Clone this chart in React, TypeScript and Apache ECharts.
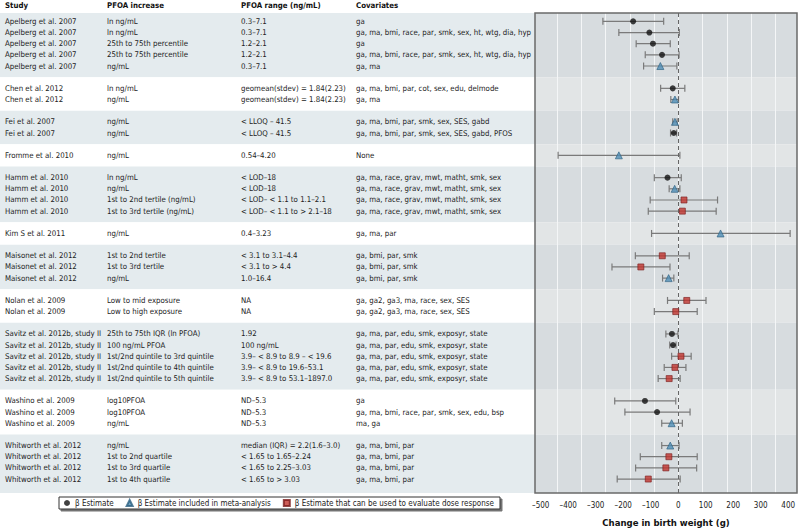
import React, { useEffect, useRef } from "react";
import * as echarts from "echarts";

const headers = ["Study", "PFOA increase", "PFOA range (ng/mL)", "Covariates"];

const studies = [
  "Apelberg et al. 2007", "Apelberg et al. 2007", "Apelberg et al. 2007", "Apelberg et al. 2007", "Apelberg et al. 2007",
  "Chen et al. 2012", "Chen et al. 2012",
  "Fei et al. 2007", "Fei et al. 2007",
  "Fromme et al. 2010",
  "Hamm et al. 2010", "Hamm et al. 2010", "Hamm et al. 2010", "Hamm et al. 2010",
  "Kim S et al. 2011",
  "Maisonet et al. 2012", "Maisonet et al. 2012", "Maisonet et al. 2012",
  "Nolan et al. 2009", "Nolan et al. 2009",
  "Savitz et al. 2012b, study II", "Savitz et al. 2012b, study II", "Savitz et al. 2012b, study II", "Savitz et al. 2012b, study II", "Savitz et al. 2012b, study II",
  "Washino et al. 2009", "Washino et al. 2009", "Washino et al. 2009",
  "Whitworth et al. 2012", "Whitworth et al. 2012", "Whitworth et al. 2012", "Whitworth et al. 2012",
];

const increases = [
  "ln ng/mL", "ln ng/mL", "25th to 75th percentile", "25th to 75th percentile", "ng/mL",
  "ln ng/mL", "ng/mL",
  "ng/mL", "ng/mL",
  "ng/mL",
  "ln ng/mL", "ng/mL", "1st to 2nd tertile (ng/mL)", "1st to 3rd tertile (ng/mL)",
  "ng/mL",
  "1st to 2nd tertile", "1st to 3rd tertile", "ng/mL",
  "Low to mid exposure", "Low to high exposure",
  "25th to 75th IQR (ln PFOA)", "100 ng/mL PFOA", "1st/2nd quintile to 3rd quintile", "1st/2nd quintile to 4th quintile", "1st/2nd quintile to 5th quintile",
  "log10PFOA", "log10PFOA", "ng/mL",
  "ng/mL", "1st to 2nd quartile", "1st to 3rd quartile", "1st to 4th quartile",
];

const ranges = [
  "0.3–7.1", "0.3–7.1", "1.2–2.1", "1.2–2.1", "0.3–7.1",
  "geomean(stdev) = 1.84(2.23)", "geomean(stdev) = 1.84(2.23)",
  "< LLOQ – 41.5", "< LLOQ – 41.5",
  "0.54–4.20",
  "< LOD–18", "< LOD–18", "< LOD– < 1.1 to 1.1–2.1", "< LOD– < 1.1 to > 2.1–18",
  "0.4–3.23",
  "< 3.1 to 3.1–4.4", "< 3.1 to > 4.4", "1.0–16.4",
  "NA", "NA",
  "1.92", "100 ng/mL", "3.9– < 8.9 to 8.9 – < 19.6", "3.9– < 8.9 to 19.6–53.1", "3.9– < 8.9 to 53.1–1897.0",
  "ND–5.3", "ND–5.3", "ND–5.3",
  "median (IQR) = 2.2(1.6–3.0)", "< 1.65 to 1.65–2.24", "< 1.65 to 2.25–3.03", "< 1.65 to > 3.03",
];

const covariates = [
  "ga", "ga, ma, bmi, race, par, smk, sex, ht, wtg, dia, hyp", "ga", "ga, ma, bmi, race, par, smk, sex, ht, wtg, dia, hyp", "ga, ma",
  "ga, ma, bmi, par, cot, sex, edu, delmode", "ga, ma",
  "ga, ma, bmi, par, smk, sex, SES, gabd", "ga, ma, bmi, par, smk, sex, SES, gabd, PFOS",
  "None",
  "ga, ma, race, grav, mwt, matht, smk, sex", "ga, ma, race, grav, mwt, matht, smk, sex", "ga, ma, race, grav, mwt, matht, smk, sex", "ga, ma, race, grav, mwt, matht, smk, sex",
  "ga, ma, par",
  "ga, bmi, par, smk", "ga, bmi, par, smk", "ga, bmi, par, smk",
  "ga, ga2, ga3, ma, race, sex, SES", "ga, ga2, ga3, ma, race, sex, SES",
  "ga, ma, par, edu, smk, exposyr, state", "ga, ma, par, edu, smk, exposyr, state", "ga, ma, par, edu, smk, exposyr, state", "ga, ma, par, edu, smk, exposyr, state", "ga, ma, par, edu, smk, exposyr, state",
  "ga", "ga, ma, bmi, race, par, smk, sex, edu, bsp", "ma, ga",
  "ga, ma, bmi, par", "ga, ma, bmi, par", "ga, ma, bmi, par", "ga, ma, bmi, par",
];

// 0 = β Estimate, 1 = included in meta-analysis, 2 = dose response
const markerTypes = [
  0, 0, 0, 0, 1,
  0, 1,
  1, 0,
  1,
  0, 1, 2, 2,
  1,
  2, 2, 1,
  2, 2,
  0, 0, 2, 2, 2,
  0, 0, 1,
  1, 2, 2, 2,
];

const estimates = [
  -164, -105, -92, -59, -65,
  -20, -12,
  -12, -16,
  -216,
  -39, -13, 21, 15,
  154,
  -58, -136, -35,
  31, -9,
  -23, -19, 10, -12, -33,
  -121, -77, -24,
  -29, -34, -45, -109,
];

const lowers = [
  -274, -216, -153, -120, -126,
  -64, -27,
  -20, -28,
  -437,
  -87, -33, -102, -109,
  -97,
  -156, -241, -57,
  -39, -87,
  -45, -31, -24, -51, -73,
  -231, -194, -60,
  -60, -138, -155, -222,
];

const uppers = [
  -53, 4, -29, 3, -5,
  24, 1,
  -4, -6,
  6,
  11, 6, 143, 138,
  407,
  40, -30, -16,
  101, 69,
  -1, -8, 47, 28, 7,
  -9, 43, 15,
  3, 69, 67, 7,
];

const xTickLabels = [-500, -400, -300, -200, -100, 0, 100, 200, 300, 400];
const seriesNames = [
  "β Estimate",
  "β Estimate included in meta-analysis",
  "β Estimate that can be used to evaluate dose response",
];
const xAxisTitle = "Change in birth weight (g)";

// ---- layout / style ----
const FONT = "'Liberation Sans Narrow', 'Arial Narrow', 'DejaVu Sans Condensed', 'Liberation Sans', sans-serif";
const FS = 7.8;
const PLOT_LEFT = 535;
const PLOT_RIGHT_GAP = 3;
const GRID_TOP = 13;
const GRID_BOTTOM = 36;
const YMIN = -0.75;
const YMAX = 42.25;
const XMIN = -521;
const XMAX = 432;
const GMIN = -590;
const GMAX = 488;
const COL_X = [5, 107, 241, 356];
const TABLE_BAND = ["#e4ebee", "#ffffff"];
const PLOT_BAND = ["#d7dcdf", "#e2e5e6"];

const headerStyle = {
  align: "left",
  verticalAlign: "middle",
  fontWeight: "bold",
  fontSize: FS,
  color: "#111",
  fontFamily: FONT,
};

export default function App() {
  const ref = useRef<HTMLDivElement>(null);

  useEffect(() => {
    document.body.style.margin = "0";
    if (!ref.current) return;
    const chart = echarts.init(ref.current, undefined, { renderer: "svg" });

    const rows: number[] = [];
    let r = 0;
    studies.forEach((s, i) => {
      if (i > 0 && s !== studies[i - 1]) r += 1;
      rows.push(r);
      r += 1;
    });

    const groups: { first: number; last: number }[] = [];
    studies.forEach((s, i) => {
      if (i === 0 || s !== studies[i - 1]) groups.push({ first: rows[i], last: rows[i] });
      else groups[groups.length - 1].last = rows[i];
    });
    const bands = groups.map((g, k) => [
      0,
      k === 0 ? YMIN : g.first - 1,
      k === groups.length - 1 ? YMAX : g.last + 1,
      k % 2,
    ]);

    const columns = [studies, increases, ranges, covariates];
    const labelYAxes = columns.map((col, ci) => {
      const m = new Map<number, string>();
      col.forEach((t, i) => m.set(rows[i], t));
      return {
        type: "value",
        gridIndex: 1,
        position: "left",
        offset: PLOT_LEFT - COL_X[ci],
        min: YMIN,
        max: YMAX,
        inverse: true,
        name: ci === 0 ? "" : headers[ci],
        nameLocation: "start",
        nameGap: 7.5,
        nameMoveOverlap: false,
        nameTextStyle: headerStyle,
        axisLine: { show: false },
        axisTick: { show: false },
        splitLine: { show: false },
        axisLabel: {
          customValues: rows,
          formatter: (v: number) => m.get(Math.round(v)) ?? "",
          align: "left",
          margin: 0,
          fontSize: FS,
          color: "#222",
          fontFamily: FONT,
        },
      };
    });

    const bandRender = (colors: string[]) => (params: any, api: any) => {
      const cs = params.coordSys;
      const y1 = api.coord([api.value(0), api.value(1)])[1];
      const y2 = api.coord([api.value(0), api.value(2)])[1];
      return {
        type: "rect",
        shape: { x: cs.x, y: Math.min(y1, y2), width: cs.width, height: Math.abs(y2 - y1) },
        style: { fill: colors[api.value(3)] },
      };
    };

    const pointsFor = (t: number) =>
      estimates.map((e, i) => (markerTypes[i] === t ? [e, rows[i]] : null)).filter(Boolean);

    const option: any = {
      animation: false,
      textStyle: { fontFamily: FONT },
      title: {
        text: headers[0],
        left: COL_X[0],
        top: 1,
        padding: 0,
        textStyle: { fontWeight: "bold", fontSize: FS, color: "#111", fontFamily: FONT },
      },
      grid: [
        {
          left: 0,
          right: 800 - PLOT_LEFT,
          top: GRID_TOP,
          bottom: GRID_BOTTOM,
          show: false,
          containLabel: false,
          outerBoundsMode: "none",
        },
        {
          left: PLOT_LEFT,
          right: PLOT_RIGHT_GAP,
          top: GRID_TOP,
          bottom: GRID_BOTTOM,
          show: true,
          containLabel: false,
          outerBoundsMode: "none",
          z: 3,
          borderColor: "#6a6a6a",
          borderWidth: 1.5,
          backgroundColor: "transparent",
        },
      ],
      xAxis: [
        { type: "value", gridIndex: 0, min: 0, max: 1, show: false },
        {
          type: "value",
          gridIndex: 1,
          min: XMIN,
          max: XMAX,
          axisLine: { show: false },
          axisTick: { show: false },
          splitLine: { show: false },
          axisLabel: {
            customValues: xTickLabels,
            formatter: (v: number) => (v < 0 ? "–" + Math.abs(v) : String(v)),
            fontSize: 8,
            color: "#222",
            margin: 8,
            fontFamily: FONT,
          },
          name: xAxisTitle,
          nameLocation: "middle",
          nameGap: 24,
          nameMoveOverlap: false,
          nameTextStyle: { fontSize: 9.5, fontWeight: "bold", color: "#111", fontFamily: FONT },
        },
        {
          type: "value",
          gridIndex: 1,
          min: GMIN,
          max: GMAX,
          splitNumber: 10,
          z: 1,
          axisLine: { show: false },
          axisTick: { show: false },
          axisLabel: { show: false },
          splitLine: {
            show: true,
            showMinLine: false,
            showMaxLine: false,
            lineStyle: { color: "#f4f6f7", width: 1 },
          },
        },
      ],
      yAxis: [
        { type: "value", gridIndex: 0, min: YMIN, max: YMAX, inverse: true, show: false },
        { type: "value", gridIndex: 1, min: YMIN, max: YMAX, inverse: true, show: false },
        ...labelYAxes,
      ],
      legend: {
        left: 59,
        top: 497,
        itemWidth: 6,
        itemHeight: 6,
        itemGap: 12,
        padding: [2, 6, 2, 5],
        borderColor: "#333",
        borderWidth: 1,
        backgroundColor: "#fff",
        shadowColor: "rgba(0,0,0,0.55)",
        shadowOffsetX: 2,
        shadowOffsetY: 2,
        shadowBlur: 1,
        textStyle: { fontSize: 8, color: "#222", fontFamily: FONT },
        data: seriesNames.map((n, i) => ({ name: n, icon: ["circle", "triangle", "rect"][i] })),
      },
      series: [
        {
          type: "custom",
          name: "tableBands",
          xAxisIndex: 0,
          yAxisIndex: 0,
          z: 0,
          silent: true,
          encode: { x: 0, y: [1, 2] },
          data: bands,
          renderItem: bandRender(TABLE_BAND),
        },
        {
          type: "custom",
          name: "plotBands",
          xAxisIndex: 1,
          yAxisIndex: 1,
          z: 0,
          silent: true,
          encode: { x: 0, y: [1, 2] },
          data: bands,
          renderItem: bandRender(PLOT_BAND),
        },
        {
          type: "custom",
          name: "ci",
          xAxisIndex: 1,
          yAxisIndex: 1,
          z: 4,
          silent: true,
          encode: { x: [0, 1], y: 2 },
          data: lowers.map((lo, i) => [lo, uppers[i], rows[i]]),
          renderItem: (params: any, api: any) => {
            const y = api.value(2);
            const p1 = api.coord([api.value(0), y]);
            const p2 = api.coord([api.value(1), y]);
            const h = 3.5;
            const st = { stroke: "#7a7a7a", lineWidth: 1.2 };
            return {
              type: "group",
              children: [
                { type: "line", shape: { x1: p1[0], y1: p1[1], x2: p2[0], y2: p2[1] }, style: st },
                { type: "line", shape: { x1: p1[0], y1: p1[1] - h, x2: p1[0], y2: p1[1] + h }, style: st },
                { type: "line", shape: { x1: p2[0], y1: p2[1] - h, x2: p2[0], y2: p2[1] + h }, style: st },
              ],
            };
          },
        },
        {
          type: "scatter",
          name: seriesNames[0],
          xAxisIndex: 1,
          yAxisIndex: 1,
          z: 5,
          symbol: "circle",
          symbolSize: 6,
          itemStyle: { color: "#111" },
          data: pointsFor(0),
          markLine: {
            silent: true,
            symbol: "none",
            label: { show: false },
            lineStyle: { color: "#666", type: [4, 3], width: 1 },
            data: [{ xAxis: 0 }],
          },
        },
        {
          type: "scatter",
          name: seriesNames[1],
          xAxisIndex: 1,
          yAxisIndex: 1,
          z: 5,
          symbol: "triangle",
          symbolSize: 7,
          itemStyle: { color: "#4f8db5", borderColor: "#2a5f80", borderWidth: 0.8 },
          data: pointsFor(1),
        },
        {
          type: "scatter",
          name: seriesNames[2],
          xAxisIndex: 1,
          yAxisIndex: 1,
          z: 5,
          symbol: "rect",
          symbolSize: 6,
          itemStyle: { color: "#c1352e", borderColor: "#7b1d1d", borderWidth: 0.8 },
          data: pointsFor(2),
        },
      ],
    };

    chart.setOption(option);
    return () => chart.dispose();
  }, []);

  return <div ref={ref} style={{ width: 800, height: 529 }} />;
}
